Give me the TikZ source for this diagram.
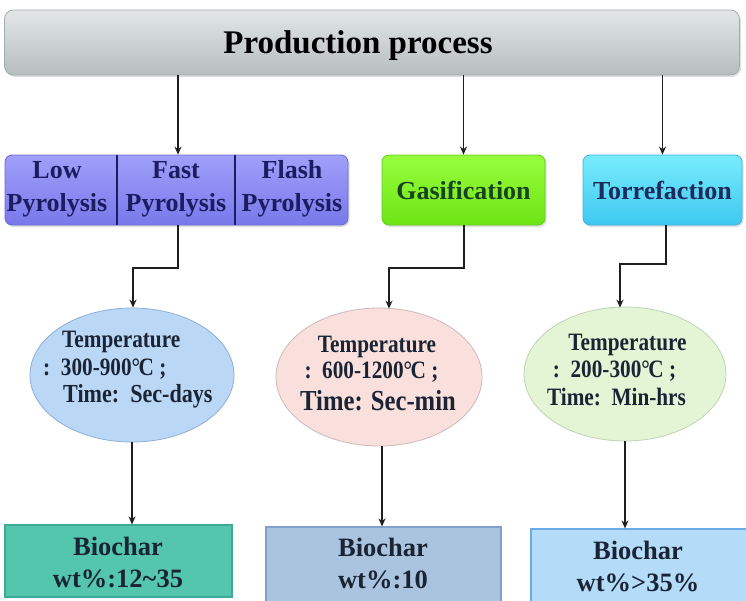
\documentclass[tikz,border=0pt]{standalone}
\usepackage{fontspec}
\setmainfont{Liberation Serif}
\newfontfamily\condfont[FakeStretch=0.85]{Liberation Serif}
\usetikzlibrary{arrows.meta,shapes.geometric,shadows}
\definecolor{barTop}{RGB}{226,230,230}
\definecolor{barBot}{RGB}{182,190,189}
\definecolor{barEdge}{RGB}{165,172,172}
\definecolor{pyTop}{RGB}{160,160,250}
\definecolor{pyBot}{RGB}{120,120,235}
\definecolor{pyEdge}{RGB}{105,105,215}
\definecolor{pyText}{RGB}{28,28,96}
\definecolor{gaTop}{RGB}{150,255,60}
\definecolor{gaBot}{RGB}{110,228,20}
\definecolor{gaEdge}{RGB}{100,205,25}
\definecolor{gaText}{RGB}{26,66,30}
\definecolor{toTop}{RGB}{120,236,252}
\definecolor{toBot}{RGB}{62,200,240}
\definecolor{toEdge}{RGB}{60,180,225}
\definecolor{toText}{RGB}{28,42,92}
\definecolor{eOneFill}{RGB}{186,216,246}
\definecolor{eOneEdge}{RGB}{140,175,215}
\definecolor{eTwoFill}{RGB}{250,224,220}
\definecolor{eTwoEdge}{RGB}{205,185,185}
\definecolor{eThrFill}{RGB}{228,245,214}
\definecolor{eThrEdge}{RGB}{190,212,180}
\definecolor{bOneFill}{RGB}{84,198,174}
\definecolor{bOneEdge}{RGB}{60,170,150}
\definecolor{bTwoFill}{RGB}{170,196,224}
\definecolor{bTwoEdge}{RGB}{130,160,200}
\definecolor{bThrFill}{RGB}{180,220,248}
\definecolor{bThrEdge}{RGB}{105,170,232}
\definecolor{darkText}{RGB}{26,36,52}
\definecolor{lineCol}{RGB}{30,30,30}
\newcommand{\degC}{°\kern-1.5pt C}
\begin{document}
\begin{tikzpicture}[x=1pt,y=-1pt,
  arr/.style={draw=lineCol, line width=1.6pt, -{Stealth[length=8pt,width=7pt]}},
  procbox/.style={rectangle, rounded corners=7pt, inner sep=0pt, line width=0.8pt,
    drop shadow={opacity=0.25, shadow xshift=1.5pt, shadow yshift=-2pt}},
  proctext/.style={font=\fontsize{26}{33}\selectfont\bfseries, align=center, inner sep=0pt},
  divider/.style={draw=pyText, line width=1.4pt},
  ellbox/.style={ellipse, inner sep=0pt, line width=0.8pt},
  etext/.style={font=\condfont\fontsize{25}{28}\selectfont\bfseries, text=darkText, inner sep=0pt},
  charbox/.style={rectangle, inner sep=0pt, line width=1.2pt},
  chartext/.style={font=\fontsize{26.5}{32}\selectfont\bfseries, text=darkText, align=center, inner sep=0pt}
]
\useasboundingbox (0,0) rectangle (746,600);
\fill[white] (0,0) rectangle (746,600);

% top bar
\node[procbox, rounded corners=9pt, draw=barEdge, top color=barTop, bottom color=barBot,
  minimum width=735pt, minimum height=65pt] (bar) at (372,42.5) {};
\node[font=\fontsize{33}{36}\selectfont\bfseries, text=black, inner sep=0pt] (title) at (358,46) {Production process};

% process boxes
\node[procbox, draw=pyEdge, top color=pyTop, bottom color=pyBot,
  minimum width=343pt, minimum height=70pt] (pyro) at (176.5,190) {};
\node[proctext, text=pyText] (p1) at (57,189) {Low\\Pyrolysis};
\node[proctext, text=pyText] (p2) at (176,189) {Fast\\Pyrolysis};
\node[proctext, text=pyText] (p3) at (292,189) {Flash\\Pyrolysis};
\coordinate (d1) at (117,0);
\coordinate (d2) at (235,0);
\draw[divider] (pyro.north -| d1) -- (pyro.south -| d1);
\draw[divider] (pyro.north -| d2) -- (pyro.south -| d2);

\node[procbox, draw=gaEdge, top color=gaTop, bottom color=gaBot,
  minimum width=163pt, minimum height=70pt] (gas) at (463.5,190) {};
\node[proctext, text=gaText] (gast) at (463.5,190) {Gasification};
\node[procbox, draw=toEdge, top color=toTop, bottom color=toBot,
  minimum width=159pt, minimum height=70pt] (tor) at (662.5,190) {};
\node[proctext, text=toText] (tort) at (662.5,190) {Torrefaction};

% arrows from bar
\coordinate (a1) at (178,0);
\draw[arr] (bar.south -| a1) -- (pyro.north -| a1);
\draw[arr] (bar.south -| gas.north) -- (gas.north);
\draw[arr] (bar.south -| tor.north) -- (tor.north);

% ellipses
\node[ellbox, draw=eOneEdge, fill=eOneFill, minimum width=204pt, minimum height=134pt] (e1) at (132,375) {};
\node[etext, anchor=base west] (t1a) at (62,347) {Temperature};
\node[etext, anchor=base west] (t1b) at (43,375) {:\ \ 300-900\degC\ ;};
\node[etext, anchor=base west, font=\condfont\fontsize{26}{28}\selectfont\bfseries] (t1c) at (63,402) {Time:\ \ Sec-days};

\node[ellbox, draw=eTwoEdge, fill=eTwoFill, minimum width=206pt, minimum height=138pt] (e2) at (379,377) {};
\node[etext, anchor=base] (t2a) at (377,352) {Temperature};
\node[etext, anchor=base] (t2b) at (371.5,378) {:\ \ 600-1200\degC\ ;};
\node[etext, anchor=base, font=\condfont\fontsize{29}{30}\selectfont\bfseries] (t2c) at (378,410) {Time: Sec-min};

\node[ellbox, draw=eThrEdge, fill=eThrFill, minimum width=202pt, minimum height=134pt] (e3) at (625,374) {};
\node[etext, anchor=base] (t3a) at (627.5,350) {Temperature};
\node[etext, anchor=base] (t3b) at (614.5,377) {:\ \ 200-300\degC\ ;};
\node[etext, anchor=base] (t3c) at (616.5,405) {Time:\ \ Min-hrs};

% elbow connectors
\coordinate (k1a) at (178,268);
\coordinate (k1b) at (133,268);
\draw[arr] (pyro.south -| k1a) -- (k1a) -- (k1b) -- (k1b |- e1.north);
\coordinate (k2a) at (464,268);
\coordinate (k2b) at (389,268);
\draw[arr] (gas.south -| k2a) -- (k2a) -- (k2b) -- ([yshift=-1pt]k2b |- e2.north);
\coordinate (k3a) at (666,264);
\coordinate (k3b) at (620,264);
\draw[arr] (tor.south -| k3a) -- (k3a) -- (k3b) -- ([yshift=-1pt]k3b |- e3.north);

% biochar boxes
\node[charbox, draw=bOneEdge, fill=bOneFill, minimum width=227pt, minimum height=72pt] (b1) at (118.5,561) {};
\node[chartext] (c1) at (118,562.5) {Biochar\\wt\%:12\textasciitilde35};
\node[charbox, draw=bTwoEdge, fill=bTwoFill, minimum width=235pt, minimum height=76pt] (b2) at (383.5,565) {};
\node[chartext] (c2) at (383,563.5) {Biochar\\wt\%:10};
\node[charbox, draw=bThrEdge, fill=bThrFill, minimum width=222pt, minimum height=76pt] (b3) at (642,567) {};
\node[chartext] (c3) at (638,566) {Biochar\\wt\%>35\%};

% arrows to biochar
\draw[arr] (e1.south) -- (e1.south |- b1.north);
\coordinate (m2) at (382,0);
\draw[arr] (e2.south -| m2) -- (b2.north -| m2);
\draw[arr] (e3.south) -- (e3.south |- b3.north);
\end{tikzpicture}
\end{document}
